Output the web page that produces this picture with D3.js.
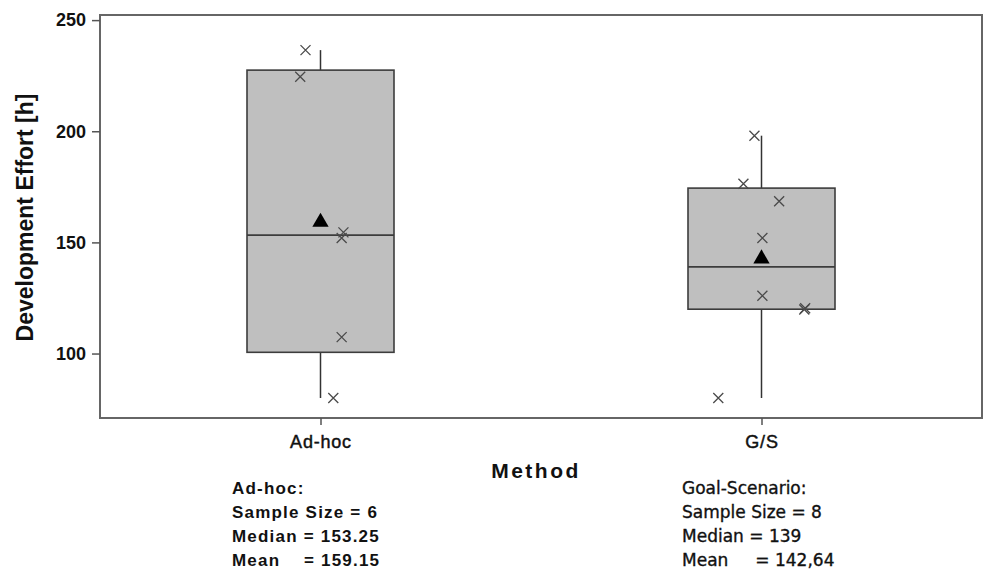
<!DOCTYPE html>
<html>
<head>
<meta charset="utf-8">
<script src="https://cdn.jsdelivr.net/npm/d3@7"></script>
<style>
  html, body { margin: 0; padding: 0; background: #ffffff; }
  svg { display: block; }
</style>
</head>
<body>
<script>
// Development effort [h] per method
const categories = ["Ad-hoc", "G/S"];
const adhocValues = [236.5, 224.5, 154.5, 152, 107.4, 80];
const gsValues = [198, 176.4, 168.5, 152, 126, 120.4, 119.8, 80];
// horizontal jitter of the individual points, as a fraction of the category step
const adhocJitter = [-0.034, -0.046, 0.052, 0.048, 0.048, 0.029];
const gsJitter = [-0.016, -0.041, 0.040, 0.002, 0.002, 0.099, 0.097, -0.098];
const yTicks = [100, 150, 200, 250];

// summary statistics printed under the chart
const groupNames = ["Ad-hoc", "Goal-Scenario"];
const sampleSizes = [6, 8];
const medians = [153.25, 139];
const means = [159.15, 142.64];
const medianLabels = ["153.25", "139"];
const meanLabels = ["159.15", "142,64"];

const W = 983, H = 579;
const plot = { left: 100, right: 982, top: 15, bottom: 418 };
const SANS = "'Liberation Sans', Arial, sans-serif";
const DEJAVU = "'DejaVu Sans', Verdana, sans-serif";

const svg = d3.select("body").append("svg")
  .attr("width", W).attr("height", H);

const x = d3.scalePoint().domain(categories)
  .range([plot.left, plot.right]).padding(0.5);
const y = d3.scaleLinear().domain([71, 252.3])
  .range([plot.bottom, plot.top]);

// quartile with the (n+1)p rule
function quartile(sorted, p) {
  const pos = (sorted.length + 1) * p;
  const lo = Math.floor(pos), frac = pos - lo;
  if (lo < 1) return sorted[0];
  if (lo >= sorted.length) return sorted[sorted.length - 1];
  return sorted[lo - 1] + frac * (sorted[lo] - sorted[lo - 1]);
}

const groups = categories.map((c, i) => {
  const values = i === 0 ? adhocValues : gsValues;
  const jitter = i === 0 ? adhocJitter : gsJitter;
  const s = values.slice().sort(d3.ascending);
  const q1 = quartile(s, 0.25), q3 = quartile(s, 0.75);
  const iqr = q3 - q1;
  const lowFence = q1 - 1.5 * iqr, highFence = q3 + 1.5 * iqr;
  return {
    cat: c, values, jitter, q1, q3,
    median: medians[i], mean: means[i],
    whiskLo: d3.min(s.filter(v => v >= lowFence)),
    whiskHi: d3.max(s.filter(v => v <= highFence))
  };
});

// plot frame
svg.append("rect")
  .attr("x", plot.left).attr("y", plot.top)
  .attr("width", plot.right - plot.left).attr("height", plot.bottom - plot.top)
  .attr("fill", "none").attr("stroke", "#666").attr("stroke-width", 2);

// y axis
const yAxis = svg.append("g")
  .attr("transform", `translate(${plot.left},0)`)
  .call(d3.axisLeft(y).tickValues(yTicks).tickSize(8).tickPadding(6));
yAxis.select(".domain").remove();
yAxis.selectAll(".tick line").attr("stroke", "#555").attr("stroke-width", 1.5);
yAxis.selectAll(".tick text")
  .style("font-family", SANS).style("font-size", "18px")
  .style("font-weight", "bold").style("fill", "#111");

// x axis
const xAxis = svg.append("g")
  .attr("transform", `translate(0,${plot.bottom})`)
  .call(d3.axisBottom(x).tickSize(7).tickPadding(10));
xAxis.select(".domain").remove();
xAxis.selectAll(".tick line").attr("stroke", "#555").attr("stroke-width", 1.5);
xAxis.selectAll(".tick text")
  .style("font-family", SANS).style("font-size", "18px")
  .style("letter-spacing", "0.8px").style("fill", "#111")
  .style("stroke", "#111").style("stroke-width", "0.45px");

// boxes
const boxW = x.step() / 3;
const g = svg.append("g").selectAll("g").data(groups).join("g");

g.append("line")
  .attr("x1", d => x(d.cat)).attr("x2", d => x(d.cat))
  .attr("y1", d => y(d.whiskHi)).attr("y2", d => y(d.q3))
  .attr("stroke", "#333").attr("stroke-width", 1.5);
g.append("line")
  .attr("x1", d => x(d.cat)).attr("x2", d => x(d.cat))
  .attr("y1", d => y(d.q1)).attr("y2", d => y(d.whiskLo))
  .attr("stroke", "#333").attr("stroke-width", 1.5);

g.append("rect")
  .attr("x", d => x(d.cat) - boxW / 2).attr("width", boxW)
  .attr("y", d => y(d.q3)).attr("height", d => y(d.q1) - y(d.q3))
  .attr("fill", "#bfbfbf").attr("stroke", "#3c3c3c").attr("stroke-width", 1.6);

g.append("line")
  .attr("x1", d => x(d.cat) - boxW / 2).attr("x2", d => x(d.cat) + boxW / 2)
  .attr("y1", d => y(d.median)).attr("y2", d => y(d.median))
  .attr("stroke", "#3c3c3c").attr("stroke-width", 1.8);

// mean markers
g.append("path")
  .attr("d", d3.symbol(d3.symbolTriangle, 115))
  .attr("transform", d => `translate(${x(d.cat)},${y(d.mean)})`)
  .attr("fill", "#000");

// individual observations
g.selectAll("path.obs")
  .data(d => d.values.map((v, k) => ({ cat: d.cat, v, j: d.jitter[k] })))
  .join("path")
  .attr("class", "obs")
  .attr("d", "M-5,-5L5,5M-5,5L5,-5")
  .attr("transform", d => `translate(${x(d.cat) + d.j * x.step()},${y(d.v)})`)
  .attr("fill", "none").attr("stroke", "#4a4a4a").attr("stroke-width", 1.3);

// axis titles
svg.append("text")
  .attr("x", 536).attr("y", 478)
  .attr("text-anchor", "middle")
  .style("font-family", SANS).style("font-size", "21px").style("font-weight", "bold")
  .style("letter-spacing", "2.5px").style("fill", "#111")
  .text("Method");

svg.append("text")
  .attr("transform", "translate(33,217.5) rotate(-90)")
  .attr("text-anchor", "middle")
  .style("font-family", SANS).style("font-size", "23px").style("font-weight", "bold")
  .style("fill", "#111")
  .text("Development Effort [h]");

// summary blocks
const lineY = [494, 518, 542, 566];
const blocks = [
  { x: 232, family: SANS, weight: "bold", size: "17px", spacing: "1.2px", stroke: "0px",
    lines: [groupNames[0] + ":", `Sample Size = ${sampleSizes[0]}`,
            `Median = ${medianLabels[0]}`, `Mean    = ${meanLabels[0]}`] },
  { x: 682, family: DEJAVU, weight: "normal", size: "17px", spacing: "0px", stroke: "0.35px",
    lines: [groupNames[1] + ":", `Sample Size = ${sampleSizes[1]}`,
            `Median = ${medianLabels[1]}`, `Mean     = ${meanLabels[1]}`] }
];
blocks.forEach(b => {
  svg.append("g").selectAll("text").data(b.lines).join("text")
    .attr("x", b.x).attr("y", (d, i) => lineY[i])
    .style("font-family", b.family).style("font-weight", b.weight)
    .style("font-size", b.size).style("letter-spacing", b.spacing)
    .style("fill", "#111").style("stroke", "#111").style("stroke-width", b.stroke)
    .style("white-space", "pre")
    .text(d => d);
});
</script>
</body>
</html>
